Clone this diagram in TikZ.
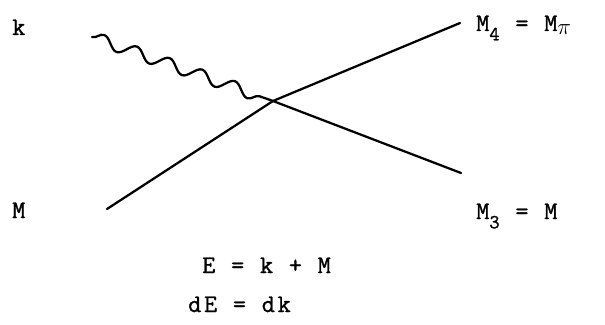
\documentclass[tikz,border=0pt]{standalone}
\usepackage{fontspec}
\setmonofont{Latin Modern Mono}[LetterSpace=11, FakeBold=1.2]
\usetikzlibrary{positioning, decorations.pathmorphing}

\tikzset{
    lbl/.style={anchor=base west, inner sep=0pt, font=\ttfamily\fontsize{19}{22}\selectfont},
    leg/.style={line width=1.7pt, line cap=round},
}
\newcommand{\lowsub}[1]{\raisebox{-7pt}{\fontsize{15}{15}\selectfont #1}}

\begin{document}
\begin{tikzpicture}[x=0.75pt, y=-0.75pt]
    \useasboundingbox (0,0) rectangle (605,324);

    % vertex and free ends of the legs
    \coordinate (vtx) at (273,101);
    \coordinate (photon) at (92,37);
    \coordinate (pin) at (107,209);
    \coordinate (pion) at (460,23);
    \coordinate (pout) at (461,173);

    % incoming photon as a wavy line
    \draw[leg, decorate, decoration={snake, segment length=26pt, amplitude=4.5pt}]
        (photon) -- (vtx);
    % incoming and outgoing straight legs
    \draw[leg] (pin) -- (vtx);
    \draw[leg] (vtx) -- (pion);
    \draw[leg] (vtx) -- (pout);

    % leg labels
    \node[lbl] (klbl) at (12,35) {k};
    \node[lbl] (mlbl) at (12,218) {M};
    \node[lbl] (m4lbl) at (476,31) {M\lowsub{4} = M\raisebox{-3pt}{\fontsize{17}{17}\selectfont$\pi$}};
    \node[lbl] (m3lbl) at (476,219) {M\lowsub{3} = M};

    % energy relations
    \node[lbl] (elbl) at (202,273) {E = k + M};
    \node[lbl] (delbl) at (188,312) {dE = dk};

\end{tikzpicture}
\end{document}
